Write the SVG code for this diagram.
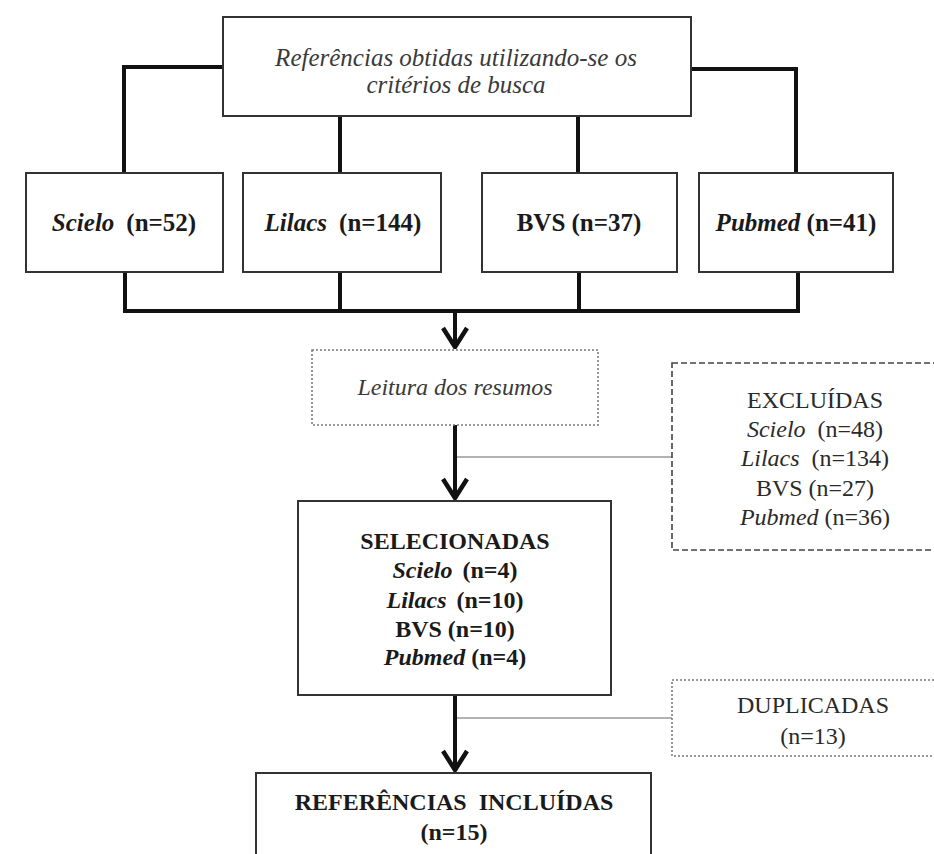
<svg xmlns="http://www.w3.org/2000/svg" width="934" height="854" viewBox="0 0 934 854">
<style>
  text { font-family: "Liberation Serif", "Times New Roman", serif; text-anchor: middle; fill: #1a1a1a; }
  .b { font-weight: bold; font-size: 24px; }
  .r { font-size: 24px; fill: #2a2a2a; }
  .it { font-style: italic; }
  .gray { fill: #3a3a3a; }
  .box { fill: #fff; stroke: #333; stroke-width: 2; }
  .dash { fill: #fff; stroke: #444; stroke-width: 1.6; stroke-dasharray: 6 3; }
  .dot { fill: #fff; stroke: #777; stroke-width: 1.5; stroke-dasharray: 2 2; }
  .thick { fill: none; stroke: #111; stroke-width: 4; stroke-linecap: square; }
  .thin { fill: none; stroke: #999; stroke-width: 1.6; }
  .arrow { fill: none; stroke: #111; stroke-width: 4; marker-end: url(#chev); }
</style>
<defs>
  <marker id="chev" markerUnits="userSpaceOnUse" viewBox="-22 -15 24 30" markerWidth="24" markerHeight="30" refX="0" refY="0" orient="auto">
    <path d="M-19,-12 L0,0 L-19,12" fill="none" stroke="#111" stroke-width="4.5" stroke-linejoin="miter"/>
  </marker>
</defs>

<g id="connectors">
  <path class="thick" d="M223,67 H124 V173"/>
  <path class="thick" d="M691,69 H796 V173"/>
  <path class="thick" d="M340,116 V173"/>
  <path class="thick" d="M578,116 V173"/>
  <path class="thick" d="M125,272 V311 H798"/>
  <path class="thick" d="M340,272 V311"/>
  <path class="thick" d="M579,272 V311"/>
  <path class="thick" d="M798,272 V311"/>
  <path class="arrow" d="M455,311 V347"/>
  <path class="arrow" d="M455,425 V498"/>
  <path class="arrow" d="M455,695 V770"/>
  <path class="thin" d="M457,457 H672"/>
  <path class="thin" d="M457,718 H672"/>
</g>

<g id="n-top">
  <rect class="box" x="223" y="17" width="468" height="99"/>
  <text class="it gray" x="456" y="66" style="font-size:25px">Referências obtidas utilizando-se os</text>
  <text class="it gray" x="456" y="93" style="font-size:25px">critérios de busca</text>
</g>

<g id="n-scielo">
  <rect class="box" x="26" y="173" width="197" height="99"/>
  <text class="b" x="124" y="231" style="font-size:25px"><tspan class="it">Scielo</tspan><tspan dx="12">(n=52)</tspan></text>
</g>
<g id="n-lilacs">
  <rect class="box" x="243" y="173" width="198" height="99"/>
  <text class="b" x="343" y="231" style="font-size:25px"><tspan class="it">Lilacs</tspan><tspan dx="12">(n=144)</tspan></text>
</g>
<g id="n-bvs">
  <rect class="box" x="482" y="173" width="195" height="99"/>
  <text class="b" x="579" y="231" style="font-size:25px">BVS (n=37)</text>
</g>
<g id="n-pubmed">
  <rect class="box" x="699" y="173" width="194" height="99"/>
  <text class="b" x="796" y="231" style="font-size:25px"><tspan class="it">Pubmed</tspan> (n=41)</text>
</g>

<g id="n-leitura">
  <rect class="dot" x="312" y="350" width="286" height="75"/>
  <text class="it gray" x="455" y="395" style="font-size:24px">Leitura dos resumos</text>
</g>

<g id="n-excluidas">
  <rect class="dash" x="672" y="363" width="270" height="187"/>
  <text class="r" x="815" y="408">EXCLUÍDAS</text>
  <text class="r" x="815" y="437"><tspan class="it">Scielo</tspan><tspan dx="12">(n=48)</tspan></text>
  <text class="r" x="815" y="466"><tspan class="it">Lilacs</tspan><tspan dx="12">(n=134)</tspan></text>
  <text class="r" x="815" y="496">BVS (n=27)</text>
  <text class="r" x="815" y="525"><tspan class="it">Pubmed</tspan> (n=36)</text>
</g>

<g id="n-selecionadas">
  <rect class="box" x="298" y="501" width="313" height="194"/>
  <text class="b" x="455" y="549">SELECIONADAS</text>
  <text class="b" x="455" y="578"><tspan class="it">Scielo</tspan><tspan dx="10">(n=4)</tspan></text>
  <text class="b" x="455" y="608"><tspan class="it">Lilacs</tspan><tspan dx="10">(n=10)</tspan></text>
  <text class="b" x="455" y="637">BVS (n=10)</text>
  <text class="b" x="455" y="665"><tspan class="it">Pubmed</tspan> (n=4)</text>
</g>

<g id="n-duplicadas">
  <rect class="dot" x="672" y="680" width="270" height="76"/>
  <text class="r" x="813" y="713">DUPLICADAS</text>
  <text class="r" x="813" y="744">(n=13)</text>
</g>

<g id="n-incluidas">
  <rect class="box" x="256" y="773" width="395" height="95"/>
  <text class="b" x="454" y="810" style="word-spacing:6px">REFERÊNCIAS INCLUÍDAS</text>
  <text class="b" x="454" y="840">(n=15)</text>
</g>
</svg>
